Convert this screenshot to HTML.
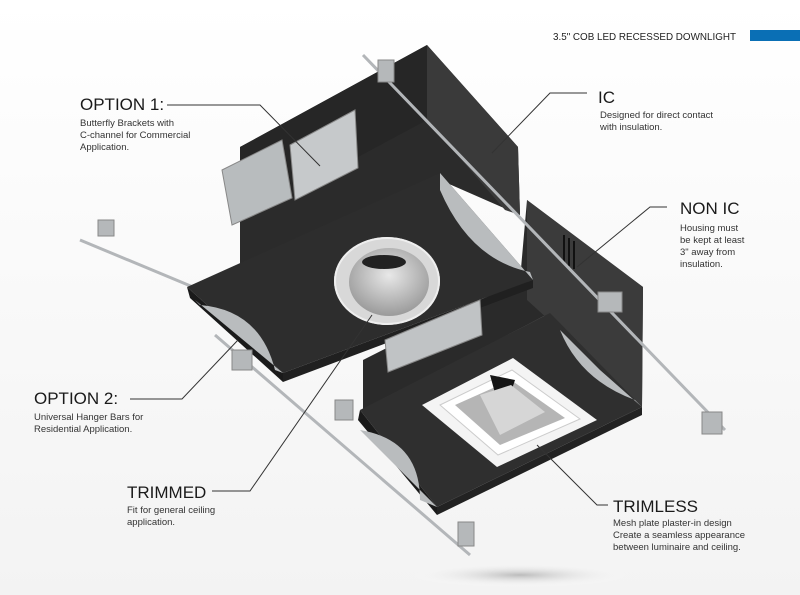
<!DOCTYPE html>
<html><head><meta charset="utf-8"><style>
html,body{margin:0;padding:0;background:#fff;}
svg{display:block;}
text{font-family:"Liberation Sans",sans-serif;fill:#222;}
.h{font-size:17px;fill:#1a1a1a;}
.s{font-size:9.5px;fill:#333;}
</style></head><body>
<svg width="800" height="595" viewBox="0 0 800 595" xmlns="http://www.w3.org/2000/svg">
<defs>
<radialGradient id="sh" cx="50%" cy="50%" r="50%"><stop offset="0" stop-color="#bbb"/><stop offset="1" stop-color="#fff" stop-opacity="0"/></radialGradient>
<linearGradient id="bg" x1="0" y1="0" x2="0" y2="1"><stop offset="0" stop-color="#fff"/><stop offset="1" stop-color="#f3f3f3"/></linearGradient>
<radialGradient id="cup" cx="50%" cy="40%" r="60%"><stop offset="0" stop-color="#e8e8e8"/><stop offset="1" stop-color="#9a9a9a"/></radialGradient>
</defs>
<rect width="800" height="595" fill="url(#bg)"/>
<ellipse cx="520" cy="575" rx="110" ry="12" fill="url(#sh)"/>
<text x="553" y="40" style="font-size:10.5px" textLength="183" lengthAdjust="spacingAndGlyphs">3.5" COB LED RECESSED DOWNLIGHT</text>
<rect x="750" y="30" width="50" height="11" fill="#0a6fb5"/>

<!-- hanger bars behind -->
<g stroke="#b3b6b9" stroke-width="3" fill="none">
<line x1="80" y1="240" x2="205" y2="292"/>
<line x1="215" y1="335" x2="470" y2="555"/>
</g>

<!-- upper housing -->
<polygon points="240,147 427,45 518,147 520,215 440,180 240,290" fill="#2b2b2b"/>
<polygon points="427,45 518,147 520,215 505,210 427,120" fill="#3a3a3a"/>
<polygon points="240,147 427,45 427,120 240,220" fill="#262626"/>
<!-- lower housing -->
<polygon points="527,200 643,287 642,407 550,313 363,410 363,360 520,280" fill="#2a2a2a"/>
<polygon points="527,200 643,287 642,407 560,330 527,300" fill="#3b3b3b"/>
<rect x="563" y="235" width="2" height="28" fill="#111"/><rect x="568" y="238" width="2" height="28" fill="#111"/><rect x="573" y="241" width="2" height="28" fill="#111"/>
<!-- lower plate -->
<polygon points="360,410 550,313 642,407 437,507" fill="#2f2f2f"/>
<polygon points="360,410 437,507 437,515 358,420" fill="#1a1a1a"/>
<polygon points="437,507 642,407 642,415 437,515" fill="#222"/>
<path d="M360,430 Q420,440 420,500 L437,507 Z" fill="#b9bcbe"/>
<path d="M560,330 Q580,380 635,400 L642,407 L600,370 Z" fill="#b9bcbe"/>
<!-- square trim -->
<polygon points="422,405 513,358 597,420 497,467" fill="#f4f4f4"/>
<polygon points="440,405 512,370 580,419 498,455" fill="#fff" stroke="#ccc"/>
<polygon points="455,405 511,380 565,418 500,445" fill="#b5b5b5"/>
<polygon points="490,375 515,380 510,395 495,393" fill="#151515"/>
<polygon points="480,395 511,385 545,412 500,435" fill="#d6d6d6"/>
<!-- upper plate -->
<polygon points="187,287 440,173 533,280 283,373" fill="#2d2d2d"/>
<polygon points="187,287 283,373 283,382 190,298" fill="#1a1a1a"/>
<polygon points="283,373 533,280 533,288 283,382" fill="#202020"/>
<path d="M200,305 Q260,310 275,370 L283,373 L195,300 Z" fill="#b9bcbe"/>
<path d="M440,190 Q470,260 530,272 L533,280 L440,173 Z" fill="#b9bcbe"/>
<!-- round trim -->
<ellipse cx="387" cy="281" rx="53" ry="44" fill="#d8d8d8"/>
<ellipse cx="387" cy="281" rx="52" ry="43" fill="none" stroke="#eee" stroke-width="2"/>
<ellipse cx="389" cy="282" rx="40" ry="34" fill="url(#cup)"/>
<ellipse cx="384" cy="262" rx="22" ry="7" fill="#222"/>
<!-- brackets option1 -->
<polygon points="222,170 282,140 292,198 232,225" fill="#b8bcbe" stroke="#888"/>
<polygon points="290,145 355,110 358,168 295,200" fill="#c6c9cb" stroke="#888"/>
<polygon points="385,340 480,300 482,335 388,372" fill="#c0c3c5" stroke="#888"/>
<!-- diagonal bar front -->
<g stroke="#b3b6b9" stroke-width="3" fill="none">
<line x1="363" y1="55" x2="725" y2="430"/>
</g>
<g fill="#b5b8ba" stroke="#888">
<rect x="378" y="60" width="16" height="22"/>
<rect x="98" y="220" width="16" height="16"/>
<rect x="232" y="350" width="20" height="20"/>
<rect x="335" y="400" width="18" height="20"/>
<rect x="458" y="522" width="16" height="24"/>
<rect x="598" y="292" width="24" height="20"/>
<rect x="702" y="412" width="20" height="22"/>
</g>
<!-- leader lines -->
<g stroke="#333" stroke-width="1" fill="none">
<polyline points="167,105 260,105 320,166"/>
<polyline points="587,93 550,93 492,153"/>
<polyline points="667,207 650,207 577,267"/>
<polyline points="130,399 182,399 238,340"/>
<polyline points="212,491 250,491 372,315"/>
<polyline points="608,505 597,505 537,445"/>
</g>
<text class="h" x="80" y="110">OPTION 1:</text>
<text class="s" x="80" y="126">Butterfly Brackets with</text>
<text class="s" x="80" y="138">C-channel for Commercial</text>
<text class="s" x="80" y="150">Application.</text>
<text class="h" x="598" y="103">IC</text>
<text class="s" x="600" y="118">Designed for direct contact</text>
<text class="s" x="600" y="130">with insulation.</text>
<text class="h" x="680" y="214">NON IC</text>
<text class="s" x="680" y="231">Housing must</text>
<text class="s" x="680" y="243">be kept at least</text>
<text class="s" x="680" y="255">3" away from</text>
<text class="s" x="680" y="267">insulation.</text>
<text class="h" x="34" y="404">OPTION 2:</text>
<text class="s" x="34" y="420">Universal Hanger Bars for</text>
<text class="s" x="34" y="432">Residential Application.</text>
<text class="h" x="127" y="498">TRIMMED</text>
<text class="s" x="127" y="513">Fit for general ceiling</text>
<text class="s" x="127" y="525">application.</text>
<text class="h" x="613" y="512">TRIMLESS</text>
<text class="s" x="613" y="526">Mesh plate plaster-in design</text>
<text class="s" x="613" y="538">Create a seamless appearance</text>
<text class="s" x="613" y="550">between luminaire and ceiling.</text>
</svg>
</body></html>
